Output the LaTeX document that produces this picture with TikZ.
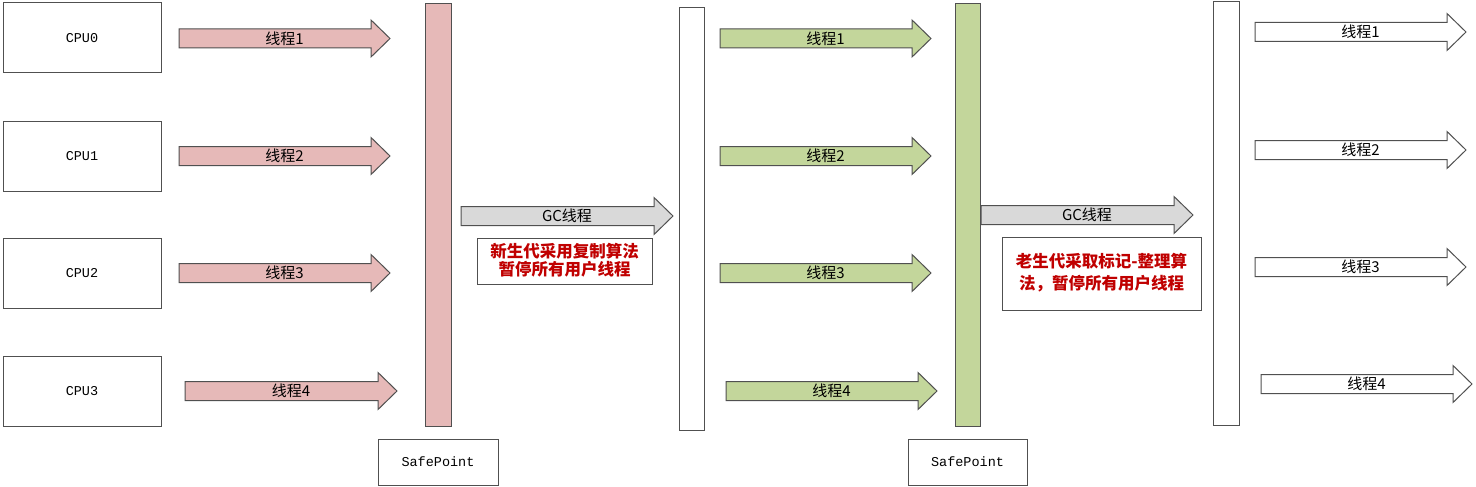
\documentclass[tikz,border=0pt]{standalone}
\usepackage{fontspec}
\setmonofont{Liberation Mono}
\newfontfamily\cjk{Noto Sans CJK SC}
\definecolor{pinkf}{HTML}{E6B9B8}
\definecolor{greenf}{HTML}{C3D69B}
\definecolor{grayf}{HTML}{D9D9D9}
\definecolor{redt}{HTML}{C00000}
\definecolor{edge}{HTML}{505050}
\tikzset{
  box/.style={draw=edge, line width=1pt, fill=white},
  cpulbl/.style={font=\fontsize{13.5}{15}\ttfamily},
  lbl/.style={font=\fontsize{15}{17}\cjk, inner sep=0pt},
  redlbl/.style={font=\fontsize{16.5}{18}\cjk\bfseries, text=redt, align=center, inner sep=0pt},
  arr/.style={draw=edge, line width=1pt, line join=miter},
  pinkarr/.style={arr, fill=pinkf},
  greenarr/.style={arr, fill=greenf},
  grayarr/.style={arr, fill=grayf},
  whitearr/.style={arr, fill=white},
  bar/.style={draw=edge, line width=1pt},
}
\newcommand\fatarrow[6]{%
  \draw[#1] (#3,#5-9.5) -- (#4-19,#5-9.5) -- (#4-19,#5-18.5) -- (#4,#5)
    -- (#4-19,#5+18.5) -- (#4-19,#5+9.5) -- (#3,#5+9.5) -- cycle;
  \node[lbl] (#2) at ({(#3+#4)/2},#5) {#6};}
\begin{document}
\begin{tikzpicture}[x=1pt,y=-1pt]
\useasboundingbox (0,0) rectangle (1476,487);
% CPU boxes
\node[box, cpulbl, minimum width=158pt, minimum height=70pt, inner sep=0pt] (cpu0) at (82,38) {CPU0};
\node[box, cpulbl, minimum width=158pt, minimum height=70pt, inner sep=0pt] (cpu1) at (82,156) {CPU1};
\node[box, cpulbl, minimum width=158pt, minimum height=70pt, inner sep=0pt] (cpu2) at (82,273) {CPU2};
\node[box, cpulbl, minimum width=158pt, minimum height=70pt, inner sep=0pt] (cpu3) at (82,391) {CPU3};
% pink arrows
\fatarrow{pinkarr}{p1}{179}{390}{38.5}{线程1}
\fatarrow{pinkarr}{p2}{179}{390}{156}{线程2}
\fatarrow{pinkarr}{p3}{179}{390}{273}{线程3}
\fatarrow{pinkarr}{p4}{185}{397}{391}{线程4}
% pink bar
\draw[bar, fill=pinkf] (425,4) rectangle (451,426);
\node[box, cpulbl, minimum width=120pt, minimum height=46pt, inner sep=0pt] (sp1) at (438,462) {SafePoint};
% GC arrow 1
\fatarrow{grayarr}{gc1}{461}{673}{216}{GC线程}
\node[box, minimum width=175pt, minimum height=46pt, inner sep=0pt] (t1) at (564.5,261) {};
\node[redlbl, font=\fontsize{16.5}{18}\cjk\bfseries] (t1l) at (564.5,260) {新生代采用复制算法\\暂停所有用户线程};
% white bar 1
\draw[bar, fill=white] (679,8) rectangle (704,430);
% green arrows
\fatarrow{greenarr}{g1}{720}{931}{38.5}{线程1}
\fatarrow{greenarr}{g2}{720}{931}{156}{线程2}
\fatarrow{greenarr}{g3}{720}{931}{273}{线程3}
\fatarrow{greenarr}{g4}{726}{937}{391}{线程4}
% green bar
\draw[bar, fill=greenf] (955,4) rectangle (980,426);
\node[box, cpulbl, minimum width=119pt, minimum height=46pt, inner sep=0pt] (sp2) at (967.5,462) {SafePoint};
% GC arrow 2
\fatarrow{grayarr}{gc2}{981}{1193}{215}{GC线程}
\node[box, minimum width=199pt, minimum height=73pt, inner sep=0pt] (t2) at (1101.5,273.5) {};
\node[redlbl, font=\fontsize{16.5}{22}\cjk\bfseries] (t2l) at (1101.5,273) {老生代采取标记-整理算\\法，暂停所有用户线程};
% white bar 2
\draw[bar, fill=white] (1213,2) rectangle (1239,425);
% white arrows
\fatarrow{whitearr}{w1}{1255}{1466}{32}{线程1}
\fatarrow{whitearr}{w2}{1255}{1466}{150}{线程2}
\fatarrow{whitearr}{w3}{1255}{1466}{267}{线程3}
\fatarrow{whitearr}{w4}{1261}{1472}{384}{线程4}
\end{tikzpicture}
\end{document}
